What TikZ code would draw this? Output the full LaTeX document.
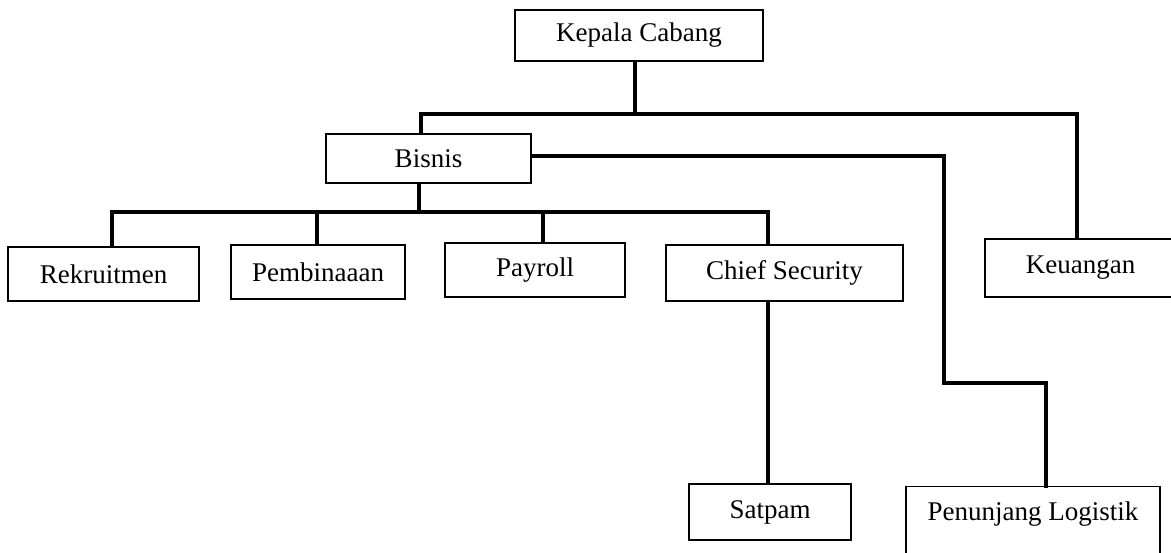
\documentclass[tikz,border=0pt]{standalone}
\usepackage{fontspec}
\setmainfont{Liberation Serif}
\tikzset{
	kotak/.style={draw, line width=0.7pt, inner sep=0pt, font=\fontsize{13.5}{16}\selectfont},
	garis/.style={line width=2pt, line cap=rect}
}
\begin{document}
\begin{tikzpicture}[x=0.5pt, y=-0.5pt]
	\useasboundingbox (0,0) rectangle (1171,552);
	%kotak-kotak
	\node[kotak, minimum width=124pt, minimum height=25.5pt] (kepala) at (639,35.5) {Kepala Cabang};
	\node[kotak, minimum width=102.5pt, minimum height=24.5pt] (bisnis) at (428.5,158.5) {Bisnis};
	\node[kotak, minimum width=95.5pt, minimum height=27pt] (rekrut) at (103.5,274) {Rekruitmen};
	\node[kotak, minimum width=87pt, minimum height=27pt] (bina) at (318,272) {Pembinaaan};
	\node[kotak, minimum width=90pt, minimum height=27pt] (payroll) at (535,270) {Payroll};
	\node[kotak, minimum width=118.5pt, minimum height=28pt] (chief) at (784.5,273) {Chief Security};
	\node[kotak, minimum width=95.5pt, minimum height=29pt] (uang) at (1080.5,268) {Keuangan};
	\node[kotak, minimum width=81pt, minimum height=28pt] (satpam) at (770,512) {Satpam};
	\node[kotak, minimum width=127pt, anchor=north, text height=17pt, text depth=20pt] (logistik) at (1033,486) {Penunjang Logistik};
	%titik bantu
	\coordinate (atas) at (635,114);
	\coordinate (atasKiri) at (421,114);
	\coordinate (atasKanan) at (1077,114);
	\coordinate (bawah) at (419,212);
	\coordinate (c1) at (112,212);
	\coordinate (c2) at (317,212);
	\coordinate (c3) at (543,212);
	\coordinate (c4) at (768,212);
	\coordinate (belok1) at (944,156);
	\coordinate (belok2) at (944,383);
	\coordinate (belok3) at (1046,383);
	%garis kepala cabang
	\draw[garis] (atas |- kepala.south) -- (atas);
	\draw[garis] (atasKiri |- bisnis.north) -- (atasKiri) -- (atasKanan) -- (atasKanan |- uang.north);
	%garis bisnis
	\draw[garis] (bawah |- bisnis.south) -- (bawah);
	\draw[garis] (c1) -- (c4);
	\draw[garis] (c1) -- (c1 |- rekrut.north);
	\draw[garis] (c2) -- (c2 |- bina.north);
	\draw[garis] (c3) -- (c3 |- payroll.north);
	\draw[garis] (c4) -- (c4 |- chief.north);
	%logistik
	\draw[garis] (bisnis.east |- belok1) -- (belok1) -- (belok2) -- (belok3) -- (belok3 |- logistik.north);
	%satpam
	\draw[garis] (c4 |- chief.south) -- (c4 |- satpam.north);
\end{tikzpicture}
\end{document}
